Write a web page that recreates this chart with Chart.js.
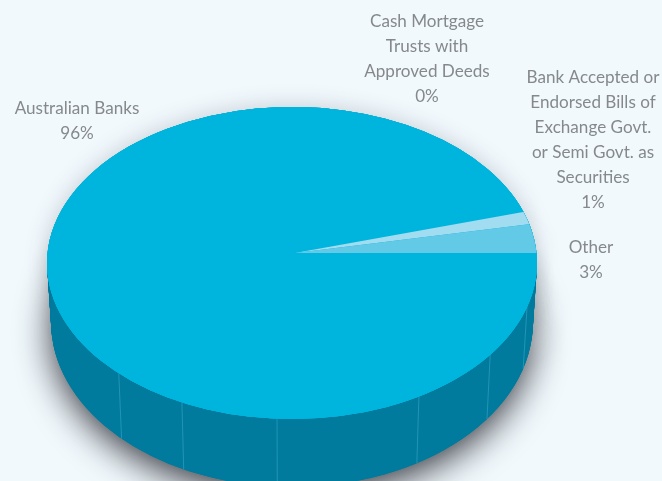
<!DOCTYPE html>
<html>
<head>
<meta charset="utf-8">
<title>Pie</title>
<script src="https://cdn.jsdelivr.net/npm/chart.js@4/dist/chart.umd.min.js"></script>
<style>
  html, body { margin: 0; padding: 0; background: #f1f9fd; overflow: hidden; }
  canvas { display: block; }
</style>
</head>
<body>
<canvas id="pieChart" width="662" height="481"></canvas>
<script>
const categories = ['Australian Banks', 'Cash Mortgage Trusts with Approved Deeds', 'Bank Accepted or Endorsed Bills of Exchange Govt. or Semi Govt. as Securities', 'Other'];
const shares = [95.5, 0, 1.4, 3.2];
const sliceColors = ['#00b5dd', '#a2dcf0', '#a2dcf0', '#62c9e6'];
const labelLines = [
  ['Australian Banks'],
  ['Cash Mortgage', 'Trusts with', 'Approved Deeds'],
  ['Bank Accepted or', 'Endorsed Bills of', 'Exchange Govt.', 'or Semi Govt. as', 'Securities'],
  ['Other']
];

const SIDE_COLOR = '#007b9d';
const SEAM_COLOR = 'rgba(60, 170, 200, 0.55)';
const TEXT_COLOR = '#85898c';
const LINE_HEIGHT = 25;

// where the label blocks sit: [center x, y of first line]
const labelAnchors = [[77, 108], [427, 21], [593, 77], [591, 247]];
// joins along the rim, degrees clockwise from 3 o'clock
const seamAngles = [16.4, 36, 58.8, 93.5, 116.7, 135];

// top face outline and bottom rim of the side wall
const face = { x: 292, y: 263, rx: 245, ry: 156 };
const rim = { x: 292, y: 322, rx: 241, ry: 165 };
// the light wedges meet off centre, perspective pulls them back
const apex = { x: 295, y: 253, rx: 270, ry: 163 };

const paintArcs = (arcs, ctx, color) => {
  arcs.forEach((arc) => {
    const saved = arc.options;
    if (color) arc.options = { ...saved, backgroundColor: color };
    arc.draw(ctx);
    arc.options = saved;
  });
};

const stretched = (ctx, arc, e, paint) => {
  ctx.save();
  ctx.translate(e.x, e.y);
  ctx.scale(e.rx / arc.outerRadius, e.ry / arc.outerRadius);
  ctx.translate(-arc.x, -arc.y);
  paint();
  ctx.restore();
};

const pie3d = {
  id: 'pie3d',
  beforeDatasetsDraw(chart) {
    const ctx = chart.ctx;
    const arcs = chart.getDatasetMeta(0).data;
    const arc = arcs[0];
    const w = chart.width;
    const h = chart.height;

    // soft shadow under the whole thing
    ctx.save();
    ctx.shadowColor = 'rgba(40, 42, 50, 0.9)';
    ctx.shadowBlur = 34;
    ctx.shadowOffsetY = 10;
    stretched(ctx, arc, rim, () => paintArcs(arcs, ctx, SIDE_COLOR));
    ctx.restore();

    ctx.save();
    ctx.shadowColor = 'rgba(60, 65, 80, 0.25)';
    ctx.shadowBlur = 22;
    stretched(ctx, arc, face, () => paintArcs(arcs, ctx, SIDE_COLOR));
    ctx.restore();

    // side wall
    ctx.save();
    ctx.beginPath();
    ctx.rect(0, face.y, w, h - face.y);
    ctx.clip();
    const depth = rim.y - face.y;
    for (let i = 0; i <= depth; i++) {
      const t = i / depth;
      const step = {
        x: face.x,
        y: face.y + i,
        rx: face.rx + (rim.rx - face.rx) * t,
        ry: face.ry + (rim.ry - face.ry) * t
      };
      stretched(ctx, arc, step, () => paintArcs(arcs, ctx, SIDE_COLOR));
    }
    ctx.strokeStyle = SEAM_COLOR;
    ctx.lineWidth = 1;
    seamAngles.forEach((deg) => {
      const a = deg * Math.PI / 180;
      ctx.beginPath();
      ctx.moveTo(face.x + Math.cos(a) * face.rx, face.y + Math.sin(a) * face.ry);
      ctx.lineTo(rim.x + Math.cos(a) * rim.rx, rim.y + Math.sin(a) * rim.ry);
      ctx.stroke();
    });
    ctx.restore();

    // top face in the main colour, then the small wedges clipped to it
    // painted a few times so the dark wall doesn't show through the arc joins
    for (let pass = 0; pass < 4; pass++) {
      stretched(ctx, arc, face, () => paintArcs(arcs, ctx, sliceColors[0]));
    }
    ctx.save();
    ctx.beginPath();
    ctx.ellipse(face.x, face.y, face.rx, face.ry, 0, 0, Math.PI * 2);
    ctx.clip();
    stretched(ctx, arc, apex, () => paintArcs(arcs.slice(1), ctx));
    ctx.restore();
    return false;
  },
  afterDraw(chart) {
    const ctx = chart.ctx;
    ctx.save();
    ctx.font = '18px Lato';
    ctx.fillStyle = TEXT_COLOR;
    ctx.textAlign = 'center';
    ctx.textBaseline = 'middle';
    labelLines.forEach((lines, i) => {
      const [x, y] = labelAnchors[i];
      lines.concat(Math.round(shares[i]) + '%').forEach((line, n) => {
        ctx.save();
        ctx.translate(x, y + n * LINE_HEIGHT);
        ctx.scale(0.95, 1);
        ctx.fillText(line, 0, 0);
        ctx.restore();
      });
    });
    ctx.restore();
  }
};

new Chart(document.querySelector('#pieChart').getContext('2d'), {
  type: 'pie',
  data: {
    labels: categories,
    datasets: [{
      data: shares,
      backgroundColor: sliceColors,
      borderWidth: 0
    }]
  },
  options: {
    responsive: false,
    animation: false,
    rotation: 90,
    events: [],
    plugins: { legend: { display: false }, tooltip: { enabled: false } }
  },
  plugins: [pie3d]
});
</script>
</body>
</html>
